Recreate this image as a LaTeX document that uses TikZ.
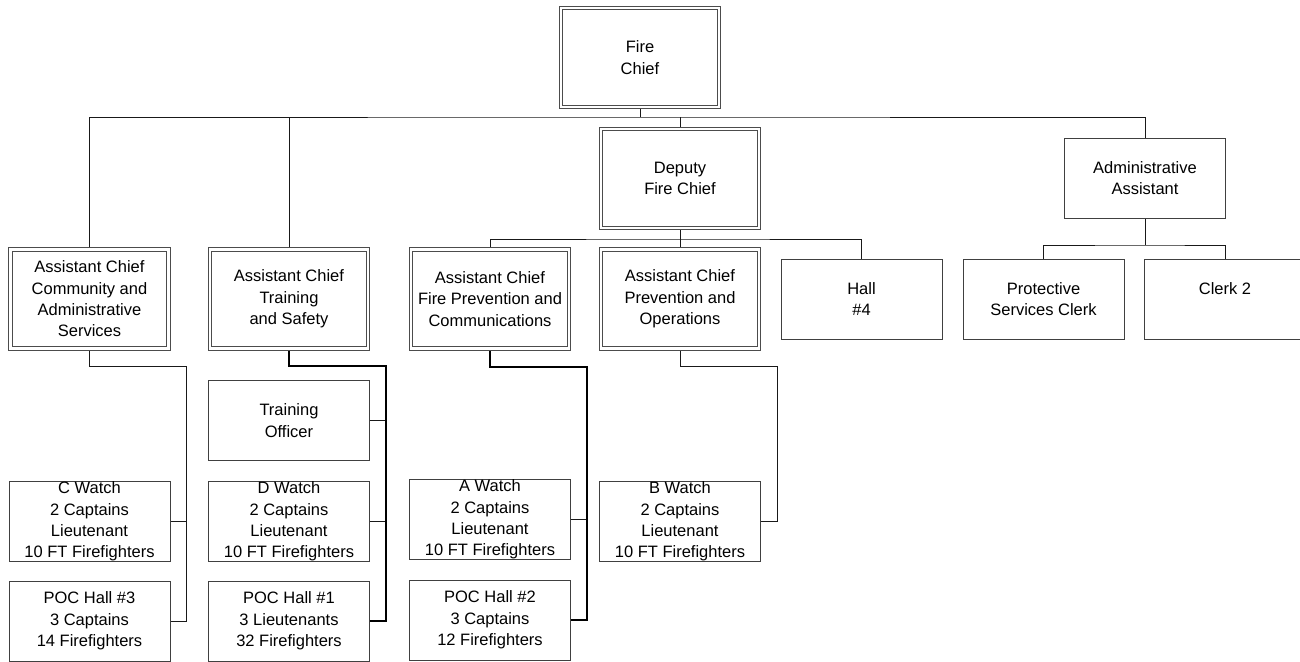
\documentclass[tikz,border=0pt]{standalone}
\usepackage{fontspec}
\setmainfont{Liberation Sans}
\usetikzlibrary{backgrounds}
\tikzset{
  box/.style={fill=white, align=center, inner sep=0pt, text=black,
    font=\fontsize{16.5pt}{21.3pt}\selectfont},
  dbox/.style={box, draw=black!70, line width=0.9pt, double=white,
    double distance=2.6pt, minimum width=158pt, minimum height=99pt},
  sbox/.style={box, draw=black!75, line width=1pt, minimum width=161pt, minimum height=80pt},
  conn/.style={draw=black!90, line width=1pt},
  thickconn/.style={draw=black, line width=2pt}
}
\begin{document}
\begin{tikzpicture}[x=1pt,y=-1pt]
\useasboundingbox (0,0) rectangle (1300,661);
% level 0/1
\node[dbox] (chief) at (640,57.5) {Fire\\Chief};
\node[dbox] (deputy) at (680,178.5) {Deputy\\Fire Chief};
\node[sbox] (admin) at (1145,178) {Administrative\\Assistant};
% level 2
\node[dbox] (comm) at (89.5,299) {Assistant Chief\\Community and\\Administrative\\Services};
\node[dbox] (train) at (289,299) {Assistant Chief\\Training\\and Safety};
\node[dbox] (firep) at (490,299) {Assistant Chief\\Fire Prevention and\\Communications};
\node[dbox] (prevops) at (680,299) {Assistant Chief\\Prevention and\\Operations};
\node[sbox] (hall4) at (861.5,299) {Hall\\\#4};
\node[sbox] (psclerk) at (1043.5,299) {Protective\\Services Clerk};
\node[sbox] (clerk2) at (1225,299) {Clerk 2\\\phantom{X}};
% level 3
\node[sbox] (trainoff) at (289,420.5) {Training\\Officer};
\node[sbox] (cwatch) at (89.5,521.5) {C Watch\\2 Captains\\Lieutenant\\10 FT Firefighters};
\node[sbox] (dwatch) at (289,521.5) {D Watch\\2 Captains\\Lieutenant\\10 FT Firefighters};
\node[sbox] (awatch) at (490,519.5) {A Watch\\2 Captains\\Lieutenant\\10 FT Firefighters};
\node[sbox] (bwatch) at (680,521.5) {B Watch\\2 Captains\\Lieutenant\\10 FT Firefighters};
\node[sbox] (poc3) at (89.5,621) {POC Hall \#3\\3 Captains\\14 Firefighters};
\node[sbox] (poc1) at (289,621) {POC Hall \#1\\3 Lieutenants\\32 Firefighters};
\node[sbox] (poc2) at (490,620) {POC Hall \#2\\3 Captains\\12 Firefighters};
% junction points
\coordinate (bus) at (640,117);
\coordinate (dbus) at (680,239);
\coordinate (abus) at (1145,245);
\coordinate (cv) at (186,366);
\coordinate (tv) at (386,366);
\coordinate (fv) at (587,367);
\coordinate (pv) at (777,366);
\begin{scope}[on background layer]
\fill[white] (0,0) rectangle (1300,661);
\draw[conn] (chief.south) -- (bus);
\draw[conn] (comm.north) |- (bus) -| (admin.north);
\draw[conn] (train.north) -- (train.north |- bus);
\draw[conn] (deputy.north) -- (deputy.north |- bus);
\draw[conn] (deputy.south) -- (prevops.north);
\draw[conn] (firep.north) |- (dbus) -| (hall4.north);
\draw[conn] (admin.south) -- (abus);
\draw[conn] (psclerk.north) |- (abus) -| (clerk2.north);
\draw[conn] (comm.south) |- (cv) |- (poc3.east);
\draw[conn] (cwatch.east) -- (cwatch.east -| cv);
\draw[conn] (trainoff.east) -- (trainoff.east -| tv);
\draw[conn] (dwatch.east) -- (dwatch.east -| tv);
\draw[thickconn] (train.south) |- (tv) |- (poc1.east);
\draw[conn] (awatch.east) -- (awatch.east -| fv);
\draw[thickconn] (firep.south) |- (fv) |- (poc2.east);
\draw[conn] (prevops.south) |- (pv) |- (bwatch.east);
\end{scope}
\end{tikzpicture}
\end{document}
